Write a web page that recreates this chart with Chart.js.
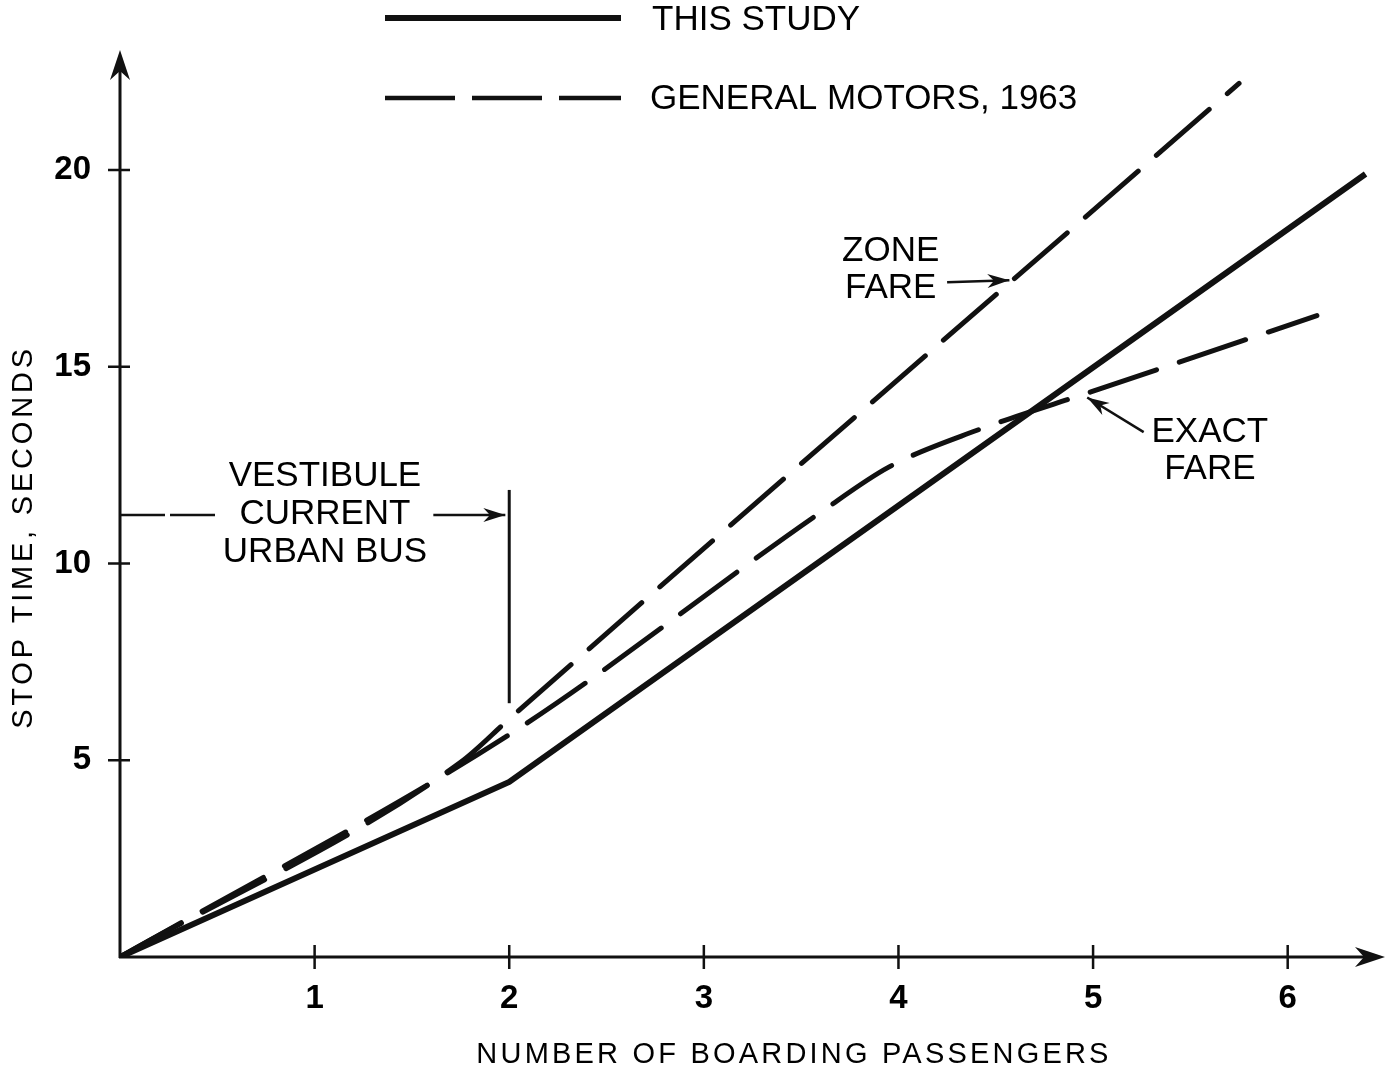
<!DOCTYPE html>
<html>
<head>
<meta charset="utf-8">
<script src="https://cdn.jsdelivr.net/npm/chart.js@4.4.1/dist/chart.umd.min.js"></script>
<style>
  html, body { margin: 0; padding: 0; background: #fff; }
  #wrap { width: 1385px; height: 1075px; }
</style>
</head>
<body>
<div id="wrap"><canvas id="chart" width="1385" height="1075"></canvas></div>
<script>
// values
const thisStudyX = [0, 2, 6.4];
const thisStudyY = [0, 4.45, 19.9];
const zoneFareX = [0, 1.75, 2, 5.75];
const zoneFareY = [0, 4.95, 6.05, 22.2];
const exactFareX = [0, 2, 3.6, 3.95, 4.4, 5, 6.15];
const exactFareY = [0, 5.65, 11.3, 12.45, 13.38, 14.38, 16.3];
const xTicks = [1, 2, 3, 4, 5, 6];
const yTicks = [5, 10, 15, 20];

// annotations placed in data units
const notes = [
  { lines: ['ZONE', 'FARE'], x: 3.96, y: [17.94, 17.0] },
  { lines: ['EXACT', 'FARE'], x: 5.6, y: [13.34, 12.4] },
  { lines: ['VESTIBULE', 'CURRENT', 'URBAN BUS'], x: 1.053, y: [12.22, 11.26, 10.29] },
];
const arrows = [
  { from: [4.25, 17.15], to: [4.57, 17.2] },
  { from: [5.26, 13.34], to: [4.97, 14.22] },
  { from: [1.61, 11.23], to: [1.98, 11.23] },
];

const FONT = '"Liberation Sans", Arial, sans-serif';
const INK = '#111';

const toPts = (xs, ys) => xs.map((x, i) => ({ x, y: ys[i] }));

function arrowHead(ctx, x1, y1, x2, y2, len, half) {
  const a = Math.atan2(y2 - y1, x2 - x1);
  ctx.beginPath();
  ctx.moveTo(x2, y2);
  ctx.lineTo(x2 - len * Math.cos(a) + half * Math.sin(a), y2 - len * Math.sin(a) - half * Math.cos(a));
  ctx.lineTo(x2 - len * 0.7 * Math.cos(a), y2 - len * 0.7 * Math.sin(a));
  ctx.lineTo(x2 - len * Math.cos(a) - half * Math.sin(a), y2 - len * Math.sin(a) + half * Math.cos(a));
  ctx.closePath();
  ctx.fill();
}

const decorations = {
  id: 'decorations',
  afterDraw(chart) {
    const { ctx, chartArea, scales: { x, y } } = chart;
    const x0 = x.getPixelForValue(0);
    const y0 = y.getPixelForValue(0);
    ctx.save();
    ctx.strokeStyle = INK;
    ctx.fillStyle = INK;
    ctx.lineCap = 'butt';

    // axes with arrowheads
    ctx.lineWidth = 3;
    ctx.beginPath();
    ctx.moveTo(x0, y0 + 1);
    ctx.lineTo(x0, chartArea.top + 10);
    ctx.moveTo(x0 - 1, y0);
    ctx.lineTo(chartArea.right - 10, y0);
    ctx.stroke();
    arrowHead(ctx, x0, y0, x0, chartArea.top - 2, 30, 10);
    arrowHead(ctx, x0, y0, chartArea.right, y0, 30, 10);

    // cross tick marks
    ctx.lineWidth = 2.5;
    ctx.beginPath();
    yTicks.forEach(v => {
      const py = y.getPixelForValue(v);
      ctx.moveTo(x0 - 12, py);
      ctx.lineTo(x0 + 10, py);
    });
    xTicks.forEach(v => {
      const px = x.getPixelForValue(v);
      ctx.moveTo(px, y0 - 12);
      ctx.lineTo(px, y0 + 12);
    });
    ctx.stroke();

    // vestibule marker: dashed lead-in and vertical bar at x = 2
    ctx.lineWidth = 2.5;
    ctx.setLineDash([45, 5]);
    ctx.beginPath();
    ctx.moveTo(x0, y.getPixelForValue(11.23));
    ctx.lineTo(x.getPixelForValue(0.49), y.getPixelForValue(11.23));
    ctx.stroke();
    ctx.setLineDash([]);
    ctx.lineWidth = 3;
    ctx.beginPath();
    ctx.moveTo(x.getPixelForValue(2), y.getPixelForValue(11.87));
    ctx.lineTo(x.getPixelForValue(2), y.getPixelForValue(6.45));
    ctx.stroke();

    // arrows
    arrows.forEach(a => {
      const x1 = x.getPixelForValue(a.from[0]), y1 = y.getPixelForValue(a.from[1]);
      const x2 = x.getPixelForValue(a.to[0]), y2 = y.getPixelForValue(a.to[1]);
      ctx.lineWidth = 2.5;
      ctx.beginPath();
      ctx.moveTo(x1, y1);
      ctx.lineTo(x2, y2);
      ctx.stroke();
      arrowHead(ctx, x1, y1, x2, y2, 22, 7);
    });

    // note text
    ctx.fillStyle = '#000';
    ctx.font = '35px ' + FONT;
    ctx.textAlign = 'center';
    ctx.textBaseline = 'middle';
    notes.forEach(n => {
      n.lines.forEach((t, i) => {
        ctx.fillText(t, x.getPixelForValue(n.x), y.getPixelForValue(n.y[i]));
      });
    });

    // legend
    ctx.strokeStyle = INK;
    ctx.lineWidth = 6;
    ctx.beginPath();
    ctx.moveTo(385, 18);
    ctx.lineTo(621, 18);
    ctx.stroke();
    ctx.lineWidth = 4.5;
    ctx.setLineDash([70, 17]);
    ctx.beginPath();
    ctx.moveTo(385, 98);
    ctx.lineTo(621, 98);
    ctx.stroke();
    ctx.setLineDash([]);
    ctx.textAlign = 'left';
    ctx.fillText('THIS STUDY', 652, 20);
    ctx.fillText('GENERAL MOTORS, 1963', 650, 99);

    // axis titles
    ctx.font = '29px ' + FONT;
    ctx.letterSpacing = '3.2px';
    ctx.textAlign = 'center';
    ctx.fillText('NUMBER OF BOARDING PASSENGERS', 794, 1055);
    ctx.translate(24, 537);
    ctx.rotate(-Math.PI / 2);
    ctx.letterSpacing = '3.8px';
    ctx.fillText('STOP TIME, SECONDS', 0, 0);
    ctx.restore();
  }
};

const tickFont = { family: FONT, size: 33, weight: 'bold' };

new Chart(document.getElementById('chart'), {
  type: 'scatter',
  data: {
    datasets: [
      {
        label: 'THIS STUDY',
        data: toPts(thisStudyX, thisStudyY),
        showLine: true,
        borderColor: INK,
        borderWidth: 6,
        pointRadius: 0,
        tension: 0,
      },
      {
        label: 'GENERAL MOTORS, 1963 - ZONE FARE',
        data: toPts(zoneFareX, zoneFareY),
        showLine: true,
        borderColor: INK,
        borderWidth: 5,
        borderDash: [70, 24],
        borderCapStyle: 'round',
        pointRadius: 0,
        cubicInterpolationMode: 'monotone',
      },
      {
        label: 'GENERAL MOTORS, 1963 - EXACT FARE',
        data: toPts(exactFareX, exactFareY),
        showLine: true,
        borderColor: INK,
        borderWidth: 5,
        borderDash: [70, 24],
        borderCapStyle: 'round',
        pointRadius: 0,
        cubicInterpolationMode: 'monotone',
      },
    ],
  },
  options: {
    responsive: false,
    animation: false,
    devicePixelRatio: 1,
    layout: { padding: { top: 52, right: 0, bottom: 0, left: 0 } },
    plugins: { legend: { display: false }, tooltip: { enabled: false } },
    scales: {
      x: {
        type: 'linear',
        min: 0,
        max: 6.5,
        afterBuildTicks: s => { s.ticks = xTicks.map(v => ({ value: v })); },
        afterFit: s => { s.height = 118; },
        grid: { display: false, drawTicks: false },
        border: { display: false },
        ticks: { font: tickFont, color: '#000', padding: 22, maxRotation: 0 },
      },
      y: {
        type: 'linear',
        min: 0,
        max: 23,
        afterBuildTicks: s => { s.ticks = yTicks.map(v => ({ value: v })); },
        afterFit: s => { s.width = 120; },
        grid: { display: false, drawTicks: false },
        border: { display: false },
        ticks: { font: tickFont, color: '#000', padding: 29 },
      },
    },
  },
  plugins: [decorations],
});
</script>
</body>
</html>
